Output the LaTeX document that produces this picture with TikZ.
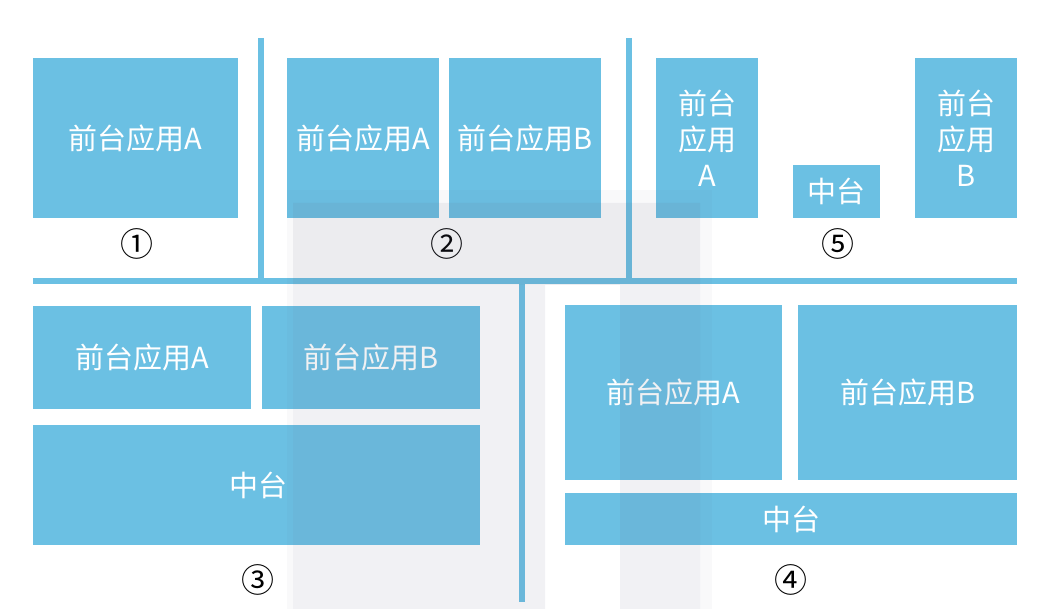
\documentclass[tikz,border=0pt]{standalone}
\usepackage{fontspec}
\newfontfamily\cjk{Noto Sans CJK SC}
\usetikzlibrary{positioning}
\definecolor{appblue}{RGB}{107,192,227}
\definecolor{markgray}{RGB}{100,100,130}

\begin{document}
\begin{tikzpicture}[x=1pt,y=-1pt,
  appbox/.style={fill=appblue, text=white, anchor=north west, inner sep=0pt,
    align=center, font=\cjk\fontsize{29}{36}\selectfont},
  divider/.style={draw=appblue, line width=6pt},
  tag/.style={font=\cjk\fontsize{33}{33}\selectfont}]

\useasboundingbox (0,0) rectangle (1041,609);

% dividers
\draw[divider] (261,38)  -- (261,278);
\draw[divider] (629,38)  -- (629,278);
\draw[divider] (33,281)  -- (1017,281);
\draw[divider] (522,284) -- (522,602);

% 1
\node[appbox, minimum width=205pt, minimum height=160pt] (oneA) at (33,58) {前台应用A};
\node[tag] (one) at (137,244) {①};

% 2
\node[appbox, minimum width=152pt, minimum height=160pt] (twoA) at (287,58) {前台应用A};
\node[appbox, minimum width=152pt, minimum height=160pt] (twoB) at (449,58) {前台应用B};
\node[tag] (two) at (447,244) {②};

% 5
\node[appbox, minimum width=102pt, minimum height=160pt] (fiveA) at (656,58) {前台\\应用\\A};
\node[appbox, minimum width=87pt,  minimum height=53pt]  (fiveM) at (793,165) {中台};
\node[appbox, minimum width=102pt, minimum height=160pt] (fiveB) at (915,58) {前台\\应用\\B};
\node[tag] (five) at (838,244) {⑤};

% 3
\node[appbox, minimum width=218pt, minimum height=103pt] (threeA) at (33,306)  {前台应用A};
\node[appbox, minimum width=218pt, minimum height=103pt] (threeB) at (262,306) {前台应用B};
\node[appbox, minimum width=447pt, minimum height=120pt] (threeM) at (33,425)  {\hspace*{4pt}中台};
\node[tag] (three) at (258,580) {③};

% 4
\node[appbox, minimum width=217pt, minimum height=175pt] (fourA) at (565,305) {前台应用A};
\node[appbox, minimum width=219pt, minimum height=175pt] (fourB) at (798,305) {前台应用B};
\node[appbox, minimum width=452pt, minimum height=52pt]  (fourM) at (565,493) {中台};
\node[tag] (four) at (791,580) {④};

% watermark
\fill[markgray, opacity=0.04] (287,190) rectangle (712,285);
\fill[markgray, opacity=0.04] (287,285) rectangle (293,609);
\fill[markgray, opacity=0.04] (700,285) rectangle (712,609);
\fill[markgray, opacity=0.09] (293,203) -- (700,203) -- (700,609) -- (620,609)
  -- (620,285) -- (545,285) -- (545,609) -- (293,609) -- cycle;

\end{tikzpicture}
\end{document}
